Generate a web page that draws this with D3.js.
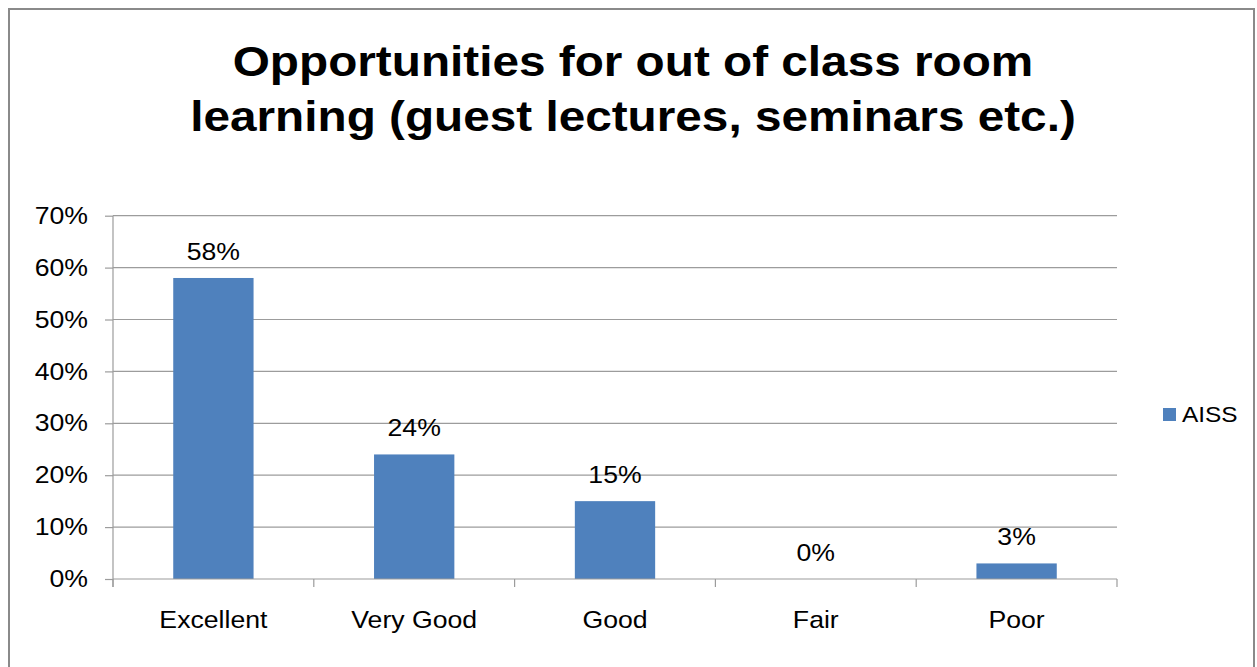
<!DOCTYPE html>
<html>
<head>
<meta charset="utf-8">
<script src="https://cdn.jsdelivr.net/npm/d3@7"></script>
<style>
  body { margin: 0; background: #fff; }
  svg { display: block; }
</style>
</head>
<body>
<svg id="chart"></svg>
<script>
// data
const categories = ["Excellent", "Very Good", "Good", "Fair", "Poor"];
const aiss = [0.58, 0.24, 0.15, 0, 0.03];
const valueLabels = ["58%", "24%", "15%", "0%", "3%"];
const yTicks = [0, 0.1, 0.2, 0.3, 0.4, 0.5, 0.6, 0.7];
const titleLines = ["Opportunities for out of class room", "learning (guest lectures, seminars etc.)"];
const seriesName = "AISS";

const width = 1257, height = 667;
const font = "'Liberation Sans', Arial, sans-serif";
const sx = 1.11; // the reference text is a bit wider than Arial

const svg = d3.select("#chart")
    .attr("width", width)
    .attr("height", height);

svg.append("rect")
    .attr("width", width).attr("height", height)
    .attr("fill", "#fff");

// outer chart border (runs off the bottom)
svg.append("rect")
    .attr("x", 9).attr("y", 9)
    .attr("width", 1245).attr("height", 700)
    .attr("fill", "none")
    .attr("stroke", "#8a8a8a")
    .attr("stroke-width", 2);

// title
titleLines.forEach((t, i) => {
    svg.append("text")
        .attr("transform", `translate(633,${76 + i*55}) scale(${sx},1)`)
        .attr("text-anchor", "middle")
        .attr("font-family", font)
        .attr("font-weight", "bold")
        .attr("font-size", "43px")
        .attr("fill", "#000")
        .text(t);
});

const x = d3.scaleBand()
    .domain(categories)
    .range([113, 1117])
    .padding(0);

const y = d3.scaleLinear()
    .domain([0, 0.7])
    .range([579, 215.7]);

const gridColor = "#9c9c9c";

// y ticks
const yaxis = d3.axisLeft(y)
    .tickValues(yTicks)
    .tickFormat(d3.format(".0%"))
    .tickSize(8)
    .tickPadding(14.5);

const gy = svg.append("g")
    .attr("transform", "translate(113,0)")
    .call(yaxis);
gy.select(".domain").remove();
gy.selectAll(".tick line").attr("stroke", gridColor).attr("stroke-width", 1.2);
gy.selectAll(".tick text")
    .attr("transform", `scale(${sx},1)`)
    .attr("font-family", font)
    .attr("font-size", "24px")
    .attr("fill", "#000");

// gridlines
svg.append("g")
    .selectAll("line")
    .data(yTicks.slice(1))
    .join("line")
    .attr("x1", 113).attr("x2", 1117)
    .attr("y1", d => y(d)).attr("y2", d => y(d))
    .attr("stroke", gridColor)
    .attr("stroke-width", 1.2);

// y axis line
svg.append("line")
    .attr("x1", 113).attr("x2", 113)
    .attr("y1", y(0.7)).attr("y2", 587)
    .attr("stroke", gridColor)
    .attr("stroke-width", 1.2);

// bars
svg.append("g")
    .selectAll("rect")
    .data(aiss)
    .join("rect")
    .attr("x", (d, i) => x(categories[i]) + x.bandwidth()*0.3)
    .attr("width", x.bandwidth()*0.4)
    .attr("y", d => y(d))
    .attr("height", d => y(0) - y(d))
    .attr("fill", "#4f81bd");

// value labels
svg.append("g")
    .selectAll("text")
    .data(aiss)
    .join("text")
    .attr("transform", (d, i) => `translate(${x(categories[i]) + x.bandwidth()/2},${y(d) - 18}) scale(${sx},1)`)
    .attr("text-anchor", "middle")
    .attr("font-family", font)
    .attr("font-size", "24px")
    .attr("fill", "#000")
    .text((d, i) => valueLabels[i]);

// x axis
const xaxis = d3.axisBottom(x)
    .tickSize(0)
    .tickPadding(32);

const gx = svg.append("g")
    .attr("transform", "translate(0,579)")
    .call(xaxis);
gx.select(".domain").remove();
gx.selectAll(".tick text")
    .attr("transform", `scale(${sx},1)`)
    .attr("font-family", font)
    .attr("font-size", "24px")
    .attr("fill", "#000");

svg.append("line")
    .attr("x1", 113).attr("x2", 1117)
    .attr("y1", 579).attr("y2", 579)
    .attr("stroke", gridColor)
    .attr("stroke-width", 1.2);

// category separators
const bounds = categories.map(c => x(c)).concat([1117]);
svg.append("g")
    .selectAll("line")
    .data(bounds)
    .join("line")
    .attr("x1", d => d).attr("x2", d => d)
    .attr("y1", 579).attr("y2", 587)
    .attr("stroke", gridColor)
    .attr("stroke-width", 1.2);

// legend
svg.append("rect")
    .attr("x", 1163).attr("y", 408)
    .attr("width", 13).attr("height", 13)
    .attr("fill", "#4f81bd");
svg.append("text")
    .attr("transform", `translate(1182,422) scale(${sx},1)`)
    .attr("font-family", font)
    .attr("font-size", "22px")
    .attr("fill", "#000")
    .text(seriesName);
</script>
</body>
</html>
